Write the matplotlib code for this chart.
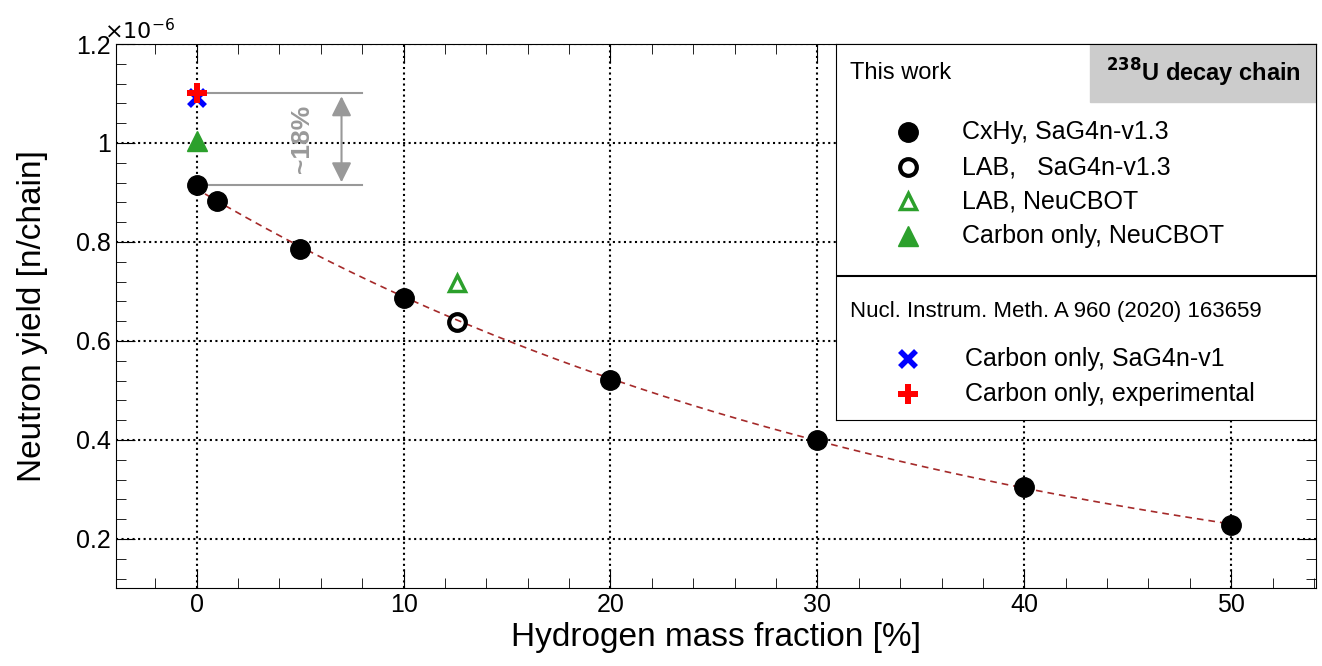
import numpy as np
import matplotlib.pyplot as plt
from matplotlib.ticker import MultipleLocator

# ── Data ──────────────────────────────────────────────────────────────────────
h_frac   = [0, 1, 5, 10, 20, 30, 40, 50]
yield_ch = [0.915, 0.883, 0.785, 0.687, 0.521, 0.401, 0.305, 0.229]
lab_x, lab_sag, lab_neu = 12.6, 0.638, 0.718
carbon_neu = 1.005
carbon_v1  = 1.090
carbon_exp = 1.100

plt.rcParams['font.family'] = ['Liberation Sans', 'DejaVu Sans']

fig = plt.figure(figsize=(13.22, 6.66), dpi=100)
ax = fig.add_axes([116/1322, 1 - 588/666, 1200/1322, 544/666])

# fit curve through CxHy points (log-quadratic)
c = np.polyfit(h_frac, np.log(yield_ch), 2)
xf = np.linspace(0.4, 50, 200)
ax.plot(xf, np.exp(np.polyval(c, xf)), ls=(0, (4, 3)), color="#a52a2a", lw=1.2, zorder=2)

ms = 14
ax.plot(h_frac, yield_ch, "o", color="black", ms=ms, zorder=4)
ax.plot(lab_x, lab_sag, "o", mfc="none", mec="black", mew=3, ms=ms - 2, zorder=4)
ax.plot(lab_x, lab_neu, "^", mfc="none", mec="#2ca02c", mew=2.5, ms=ms - 2, zorder=4)
ax.plot(0, carbon_neu, "^", color="#2ca02c", ms=ms, zorder=4)
ax.plot(0, carbon_v1, "x", color="blue", mew=4, ms=12, zorder=4)
ax.plot(0, carbon_exp, "P", color="red", ms=14, mew=0, zorder=5)

# ~18% annotation
g = "#999999"
ax.plot([0.2, 8], [carbon_exp, carbon_exp], color=g, lw=1.5, zorder=3)
ax.plot([0.2, 8], [yield_ch[0], yield_ch[0]], color=g, lw=1.5, zorder=3)
ax.annotate("", xy=(7, yield_ch[0]), xytext=(7, carbon_exp),
            arrowprops=dict(arrowstyle="<|-|>", color=g, lw=1.5, mutation_scale=30))
ax.text(5.1, (carbon_exp + yield_ch[0]) / 2, "~18%", rotation=90, color=g,
        fontsize=19, fontweight="bold", ha="center", va="center")

ax.set_xlim(-3.9, 54.1)
ax.set_ylim(0.101, 1.2)
ax.xaxis.set_major_locator(MultipleLocator(10))
ax.xaxis.set_minor_locator(MultipleLocator(2))
ax.yaxis.set_major_locator(MultipleLocator(0.2))
ax.yaxis.set_minor_locator(MultipleLocator(0.04))
ax.tick_params(which="both", direction="in", top=True, right=True, labelsize=18)
ax.tick_params(which="major", length=14)
ax.tick_params(which="minor", length=7)
ax.set_yticks([0.2, 0.4, 0.6, 0.8, 1.0, 1.2])
ax.set_yticklabels(["0.2", "0.4", "0.6", "0.8", "1", "1.2"])
ax.grid(True, which="major", ls=":", color="black", lw=1.5)
ax.set_xlabel("Hydrogen mass fraction [%]", fontsize=24)
ax.set_ylabel("Neutron yield [n/chain]", fontsize=24, labelpad=20)
ax.text(-0.01, 1.0, r"$\times10^{-6}$", transform=ax.transAxes, fontsize=16, va="bottom", ha="left")

# legend box
W, H = 1322, 666
def fx(px): return px / W
def fy(py): return 1 - py / H
lax = fig.add_axes([fx(836), fy(420), fx(1316) - fx(836), fy(44) - fy(420)])
lax.set_xlim(836, 1316); lax.set_ylim(420, 44)
lax.set_xticks([]); lax.set_yticks([])
lax.axhline(276, color="black", lw=1.5)
lax.add_patch(plt.Rectangle((1090, 44), 226, 58, color="#cccccc"))
lax.text(1203, 73, r"$^{\mathbf{238}}$U decay chain", fontsize=17, fontweight="bold", ha="center", va="center")
lax.text(850, 73, "This work", fontsize=17, va="center")
rows = [(132, dict(marker="o", color="black", ms=14), "CxHy, SaG4n-v1.3"),
        (167, dict(marker="o", mfc="none", mec="black", mew=3, ms=12), "LAB,   SaG4n-v1.3"),
        (201, dict(marker="^", mfc="none", mec="#2ca02c", mew=2.5, ms=12), "LAB, NeuCBOT"),
        (236, dict(marker="^", color="#2ca02c", ms=14), "Carbon only, NeuCBOT")]
for py, kw, lbl in rows:
    lax.plot(908, py, ls="none", **kw)
    lax.text(962, py, lbl, fontsize=18, va="center")
lax.text(850, 311, "Nucl. Instrum. Meth. A 960 (2020) 163659", fontsize=16, va="center")
lax.plot(908, 359, "x", color="blue", mew=4, ms=12)
lax.text(965, 359, "Carbon only, SaG4n-v1", fontsize=18, va="center")
lax.plot(908, 394, "P", color="red", ms=14, mew=0)
lax.text(965, 394, "Carbon only, experimental", fontsize=18, va="center")

fig.savefig("out.png", dpi=100)
